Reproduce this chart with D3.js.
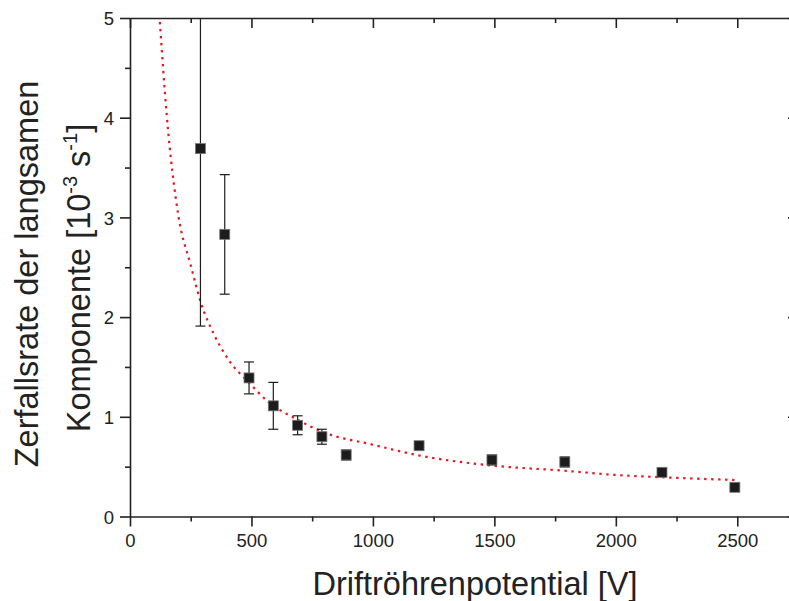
<!DOCTYPE html>
<html><head><meta charset="utf-8">
<script src="https://cdn.jsdelivr.net/npm/d3@7"></script>
<style>
html,body{margin:0;padding:0;background:#fff;}
svg text{font-family:"Liberation Sans",Arial,Helvetica,sans-serif;fill:#222;}
</style></head>
<body><svg id="c" width="789" height="601"></svg>
<script>
// data
const voltage = [290, 390, 490, 590, 690, 790, 890, 1190, 1490, 1790, 2190, 2490];
const rate    = [3.69, 2.83, 1.39, 1.11, 0.915, 0.80, 0.617, 0.71, 0.567, 0.547, 0.443, 0.293];
const rateErr = [1.78, 0.60, 0.16, 0.235, 0.095, 0.075, 0.05, 0.02, 0.05, 0.05, 0.02, 0.01];
const fitX = [123, 151, 199, 250, 295, 343, 412, 487, 569, 686, 802, 1000, 1180, 1495, 1783, 2003, 2195, 2490];
const fitY = [4.96, 4.03, 3.02, 2.52, 2.12, 1.84, 1.55, 1.35, 1.15, 0.975, 0.84, 0.72, 0.617, 0.51, 0.46, 0.416, 0.393, 0.366];
const xTicks = [0, 500, 1000, 1500, 2000, 2500];
const yTicks = [0, 1, 2, 3, 4, 5];

const svg = d3.select("#c");
const L = 130, R = 798, T = 18, B = 516.5;
const x = d3.scaleLinear().domain([0, 2750]).range([L, R]);
const y = d3.scaleLinear().domain([0, 5]).range([B, T]);
const axisColor = "#222";

svg.append("defs").append("clipPath").attr("id","plotclip")
  .append("rect").attr("x", L).attr("y", T).attr("width", R - L).attr("height", B - T);

const xMinor = d3.range(0, 2751, 250).filter(v => v % 500 !== 0);
const yMinor = d3.range(0.5, 5, 1);

function styleAxis(g){
  g.select(".domain").attr("stroke", axisColor).attr("stroke-width", 1.6);
  g.selectAll(".tick line").attr("stroke", axisColor).attr("stroke-width", 1.6);
  g.selectAll(".tick text").style("font-size", "18.5px").attr("fill", "#222");
}
// bottom
const gb = svg.append("g").attr("transform", `translate(0,${B})`)
  .call(d3.axisBottom(x).tickValues(xTicks).tickSize(10).tickSizeOuter(0).tickPadding(7).tickFormat(d3.format("d")));
styleAxis(gb);
svg.append("g").attr("transform", `translate(0,${B})`)
  .call(d3.axisBottom(x).tickValues(xMinor).tickSize(5).tickSizeOuter(0).tickFormat(""))
  .call(g => { g.select(".domain").remove(); styleAxis(g); });
// top
const gt = svg.append("g").attr("transform", `translate(0,${T})`)
  .call(d3.axisBottom(x).tickValues(xTicks).tickSize(10).tickSizeOuter(0).tickFormat(""));
styleAxis(gt);
svg.append("g").attr("transform", `translate(0,${T})`)
  .call(d3.axisBottom(x).tickValues(xMinor).tickSize(5).tickSizeOuter(0).tickFormat(""))
  .call(g => { g.select(".domain").remove(); styleAxis(g); });
// left
const gl = svg.append("g").attr("transform", `translate(${L},0)`)
  .call(d3.axisLeft(y).tickValues(yTicks).tickSize(10).tickSizeOuter(0).tickPadding(6).tickFormat(d3.format("d")));
styleAxis(gl);
gl.selectAll(".tick text").attr("dy", "0.36em");
svg.append("g").attr("transform", `translate(${L},0)`)
  .call(d3.axisLeft(y).tickValues(yMinor).tickSize(5).tickSizeOuter(0).tickFormat(""))
  .call(g => { g.select(".domain").remove(); styleAxis(g); });
// right
const gr = svg.append("g").attr("transform", `translate(${R},0)`)
  .call(d3.axisLeft(y).tickValues(yTicks).tickSize(10).tickSizeOuter(0).tickFormat(""));
styleAxis(gr);

const plot = svg.append("g").attr("clip-path", "url(#plotclip)");

// fit curve
const fitPts = fitX.map((v, i) => [v, fitY[i]]);
plot.append("path").datum(fitPts)
  .attr("fill", "none").attr("stroke", "#e8161e").attr("stroke-width", 2.2)
  .attr("stroke-dasharray", "2.4,4.6")
  .attr("d", d3.line().x(d => x(d[0])).y(d => y(d[1])).curve(d3.curveMonotoneX));

// error bars
const pts = voltage.map((v, i) => ({v, r: rate[i], e: rateErr[i]}));
const cap = 5;
const eb = plot.append("g").attr("stroke", "#1e1e1e").attr("stroke-width", 1.2);
pts.forEach(d => {
  const yt = y(d.r + d.e), yb = y(d.r - d.e), cx = x(d.v);
  eb.append("line").attr("x1", cx).attr("x2", cx).attr("y1", yt).attr("y2", yb);
  eb.append("line").attr("x1", cx - cap).attr("x2", cx + cap).attr("y1", yt).attr("y2", yt);
  eb.append("line").attr("x1", cx - cap).attr("x2", cx + cap).attr("y1", yb).attr("y2", yb);
});
// markers
const s = 10;
plot.append("g").selectAll("rect").data(pts).join("rect")
  .attr("x", d => x(d.v) - s/2).attr("y", d => y(d.r) - s/2)
  .attr("width", s).attr("height", s)
  .attr("fill", "#1c1c1c").attr("stroke", "#777").attr("stroke-width", 0.8);

// axis titles
svg.append("text").attr("x", 475).attr("y", 595).attr("text-anchor", "middle")
  .style("font-size", "32.5px").text("Driftröhrenpotential [V]");

svg.append("text").attr("transform", "translate(37.5,274) rotate(-90)")
  .attr("text-anchor", "middle").style("font-size", "32.5px").text("Zerfallsrate der langsamen");
const yt2 = svg.append("text").attr("transform", "translate(89.5,278) rotate(-90)")
  .attr("text-anchor", "middle").style("font-size", "32.5px");
yt2.append("tspan").text("Komponente [10");
yt2.append("tspan").attr("dy", -13).style("font-size", "20px").text("-3");
yt2.append("tspan").attr("dy", 13).text(" s");
yt2.append("tspan").attr("dy", -13).style("font-size", "20px").text("-1");
yt2.append("tspan").attr("dy", 13).text("]");
</script></body></html>
